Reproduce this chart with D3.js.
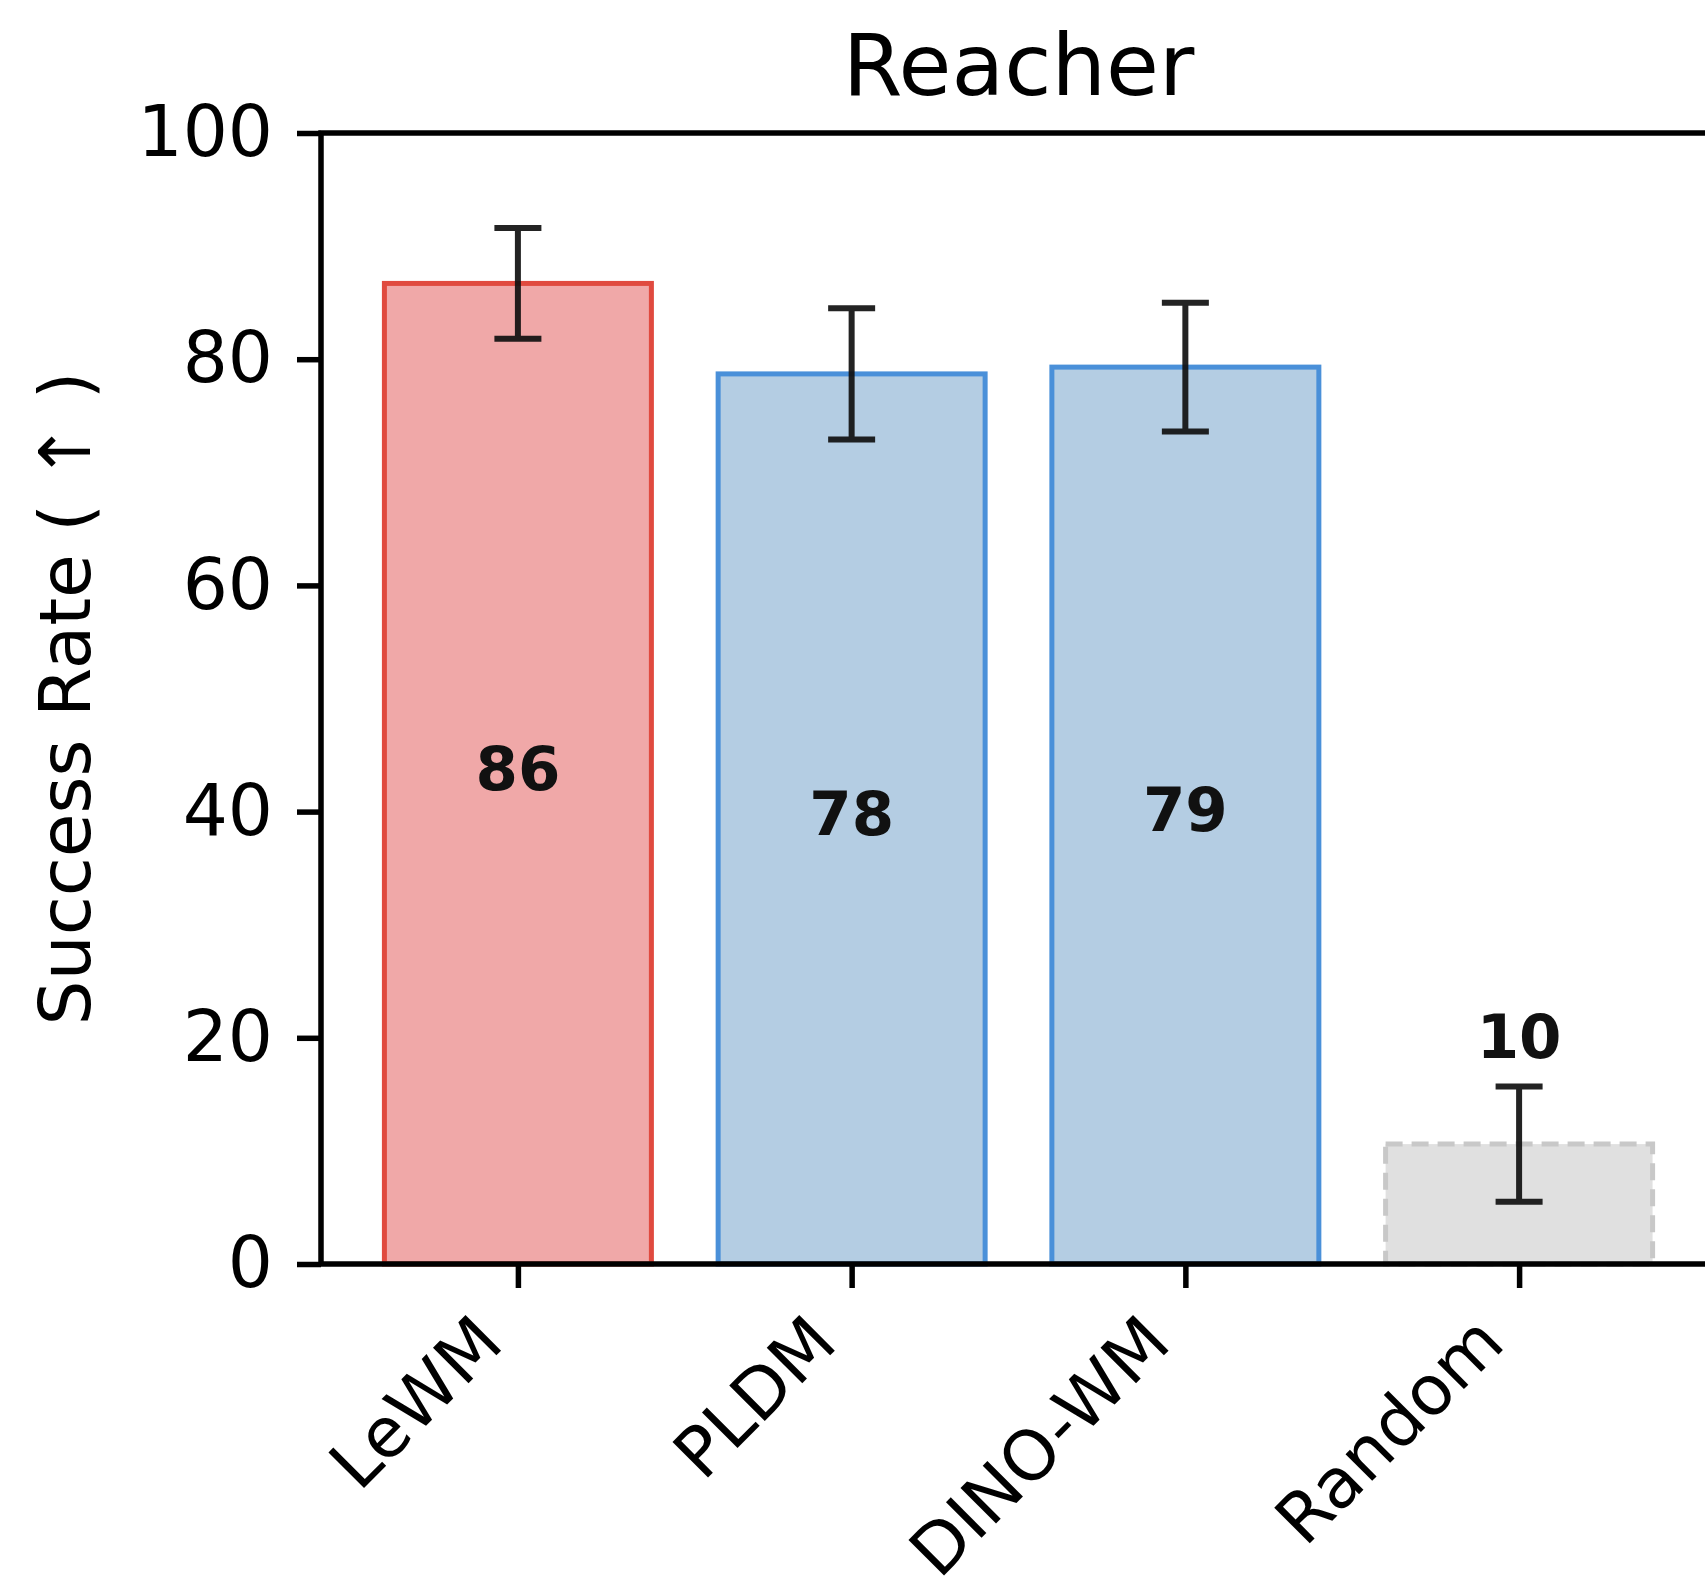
<!DOCTYPE html>
<html>
<head>
<meta charset="utf-8">
<script src="https://cdn.jsdelivr.net/npm/d3@7/dist/d3.min.js"></script>
<style>
  html, body { margin: 0; padding: 0; background: #fff; }
  svg { display: block; font-family: "DejaVu Sans", sans-serif; }
</style>
</head>
<body>
<div id="chart"></div>
<script>
// ── DATA ────────────────────────────────────────────────────────────────
const methods = ["LeWM", "PLDM", "DINO-WM", "Random"];
const means   = [86.7, 78.7, 79.3, 10.6];
const errs    = [4.9, 5.8, 5.7, 5.1];
const yTicks  = [0, 20, 40, 60, 80, 100];
const title   = "Reacher";
const yLabel  = "Success Rate ( \u2191 )";

// per-method look: LeWM red, baselines blue, random gray dashed
const FILL   = ["#f0a8a8", "#b4cde3", "#b4cde3", "#e0e0e0"];
const STROKE = ["#e04a3f", "#4a90d9", "#4a90d9", "#c8c8c8"];

(function () {
  // ── LAYOUT ──────────────────────────────────────────────────────────────
  const totalW = 1705, totalH = 1593;
  const mLeft = 321, mRight = 1716, mTop = 133, mBottom = 1264;

  const x = d3.scaleLinear().domain([-0.59, methods.length - 1 + 0.59]).range([mLeft, mRight]);
  const y = d3.scaleLinear().domain([0, 100]).range([mBottom, mTop]);
  const step = x(1) - x(0);
  const barW = step * 0.8;

  const svg = d3.select("#chart").append("svg")
    .attr("width", totalW).attr("height", totalH);

  svg.append("rect").attr("width", totalW).attr("height", totalH).attr("fill", "#fff");

  const LW = 5.5, TICK = 24, PAD = 24, FS = 71;

  // ── BARS ──────────────────────────────────────────────────────────────
  methods.forEach((m, i) => {
    const cx = x(i);
    svg.append("rect")
      .attr("x", cx - barW / 2)
      .attr("y", y(means[i]))
      .attr("width", barW)
      .attr("height", y(0) - y(means[i]))
      .attr("fill", FILL[i])
      .attr("stroke", STROKE[i])
      .attr("stroke-width", 5)
      .attr("stroke-dasharray", m === "Random" ? "17 9" : null);
  });

  // ── ERROR BARS ────────────────────────────────────────────────────────
  const capW = 47;
  methods.forEach((m, i) => {
    const cx = x(i);
    const g = svg.append("g").attr("stroke", "#111").attr("stroke-width", 6).attr("opacity", 0.92);
    g.append("line").attr("x1", cx).attr("x2", cx)
      .attr("y1", y(means[i] + errs[i])).attr("y2", y(means[i] - errs[i]));
    [means[i] + errs[i], means[i] - errs[i]].forEach(v => {
      g.append("line").attr("x1", cx - capW / 2).attr("x2", cx + capW / 2)
        .attr("y1", y(v)).attr("y2", y(v));
    });
  });

  // ── VALUE LABELS ──────────────────────────────────────────────────────
  methods.forEach((m, i) => {
    const small = means[i] < 20;
    svg.append("text")
      .attr("x", x(i))
      .attr("y", small ? y(means[i] + errs[i]) - 28 : y(means[i] / 2))
      .attr("dy", small ? null : "0.26em")
      .attr("text-anchor", "middle")
      .attr("font-size", 61)
      .attr("font-weight", "bold")
      .attr("fill", "#111")
      .text(Math.floor(means[i]));
  });

  // ── AXES ──────────────────────────────────────────────────────────────
  const yAxis = svg.append("g")
    .attr("transform", `translate(${mLeft},0)`)
    .call(d3.axisLeft(y).tickValues(yTicks).tickSize(TICK).tickPadding(PAD).tickSizeOuter(0));
  yAxis.select(".domain").remove();
  yAxis.selectAll(".tick line").attr("stroke", "#000").attr("stroke-width", LW);
  yAxis.selectAll(".tick text")
    .attr("font-family", "DejaVu Sans, sans-serif")
    .attr("font-size", FS).attr("fill", "#000");

  const xAxis = svg.append("g")
    .attr("transform", `translate(0,${mBottom})`)
    .call(d3.axisBottom(x).tickValues(d3.range(methods.length)).tickSize(TICK).tickFormat(""));
  xAxis.select(".domain").remove();
  xAxis.selectAll(".tick line").attr("stroke", "#000").attr("stroke-width", LW);

  // rotated category labels, right-aligned under each tick
  methods.forEach((m, i) => {
    const ax = x(i) - 12, ay = mBottom + TICK + PAD + 34;
    svg.append("text")
      .attr("transform", `translate(${ax},${ay}) rotate(-45)`)
      .attr("text-anchor", "end")
      .attr("font-size", 69)
      .attr("fill", "#000")
      .text(m);
  });

  // spines: left, bottom, top (right one falls outside the canvas)
  svg.append("path")
    .attr("d", `M${mRight},${mTop}H${mLeft}V${mBottom}H${mRight}`)
    .attr("fill", "none").attr("stroke", "#000").attr("stroke-width", LW)
    .attr("stroke-linecap", "square");

  // ── TITLE & LABELS ────────────────────────────────────────────────────
  svg.append("text")
    .attr("x", (mLeft + mRight) / 2).attr("y", 95)
    .attr("text-anchor", "middle")
    .attr("font-size", 86).attr("fill", "#000")
    .text(title);

  svg.append("text")
    .attr("transform", `translate(90,${(mTop + mBottom) / 2}) rotate(-90)`)
    .attr("text-anchor", "middle")
    .attr("font-size", FS).attr("fill", "#000")
    .text(yLabel);
})();
</script>
</body>
</html>
